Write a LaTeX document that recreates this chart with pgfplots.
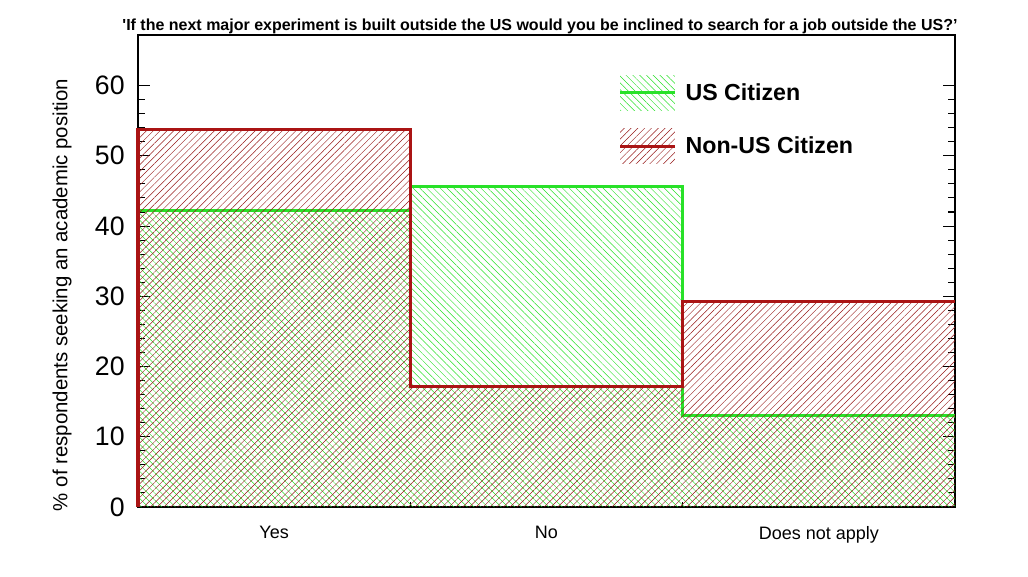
\documentclass[border=0pt]{standalone}
\usepackage{fontspec}
\setmainfont{Liberation Sans}
\usepackage{pgfplots}
\pgfplotsset{compat=1.18}
\usetikzlibrary{patterns.meta}
\definecolor{usgreen}{RGB}{40,225,40}
\definecolor{nonred}{RGB}{170,20,20}
\definecolor{hatchred}{RGB}{150,25,25}
\tikzset{
  greenhatch/.style={pattern={Lines[angle=-45,distance=3.6pt,line width=0.35pt]},pattern color=usgreen},
  redhatch/.style={pattern={Lines[angle=45,distance=3.6pt,line width=0.35pt]},pattern color=hatchred}
}
\pgfplotsset{
  hatchleg/.style={legend image code/.code={%
    \path[##1,draw=none] (0pt,-13pt) rectangle (41pt,13pt);
    \draw[##1] (0pt,0pt) -- (41pt,0pt);}}
}
\begin{document}
\begin{tikzpicture}
\useasboundingbox (-103.5pt,-51.75pt) rectangle (667.5pt,380.25pt);
\begin{axis}[
  at={(0,0)},anchor=south west,
  scale only axis,width=612.75pt,height=354pt,
  xmin=0,xmax=3,ymin=0,ymax=67.2,
  clip=false,
  axis line style={line width=1.5pt},
  ytick={0,10,...,60},minor y tick num=4,
  ytick pos=both,yticklabel pos=left,
  major tick length=9pt,minor tick length=5pt,
  tick style={black,line width=0.8pt},
  tick align=inside,
  xtick={0.5,1.5,2.5},xticklabels={Yes,No,Does not apply},
  xtick style={draw=none},xtick pos=left,
  extra x ticks={1,2},extra x tick labels={},
  extra x tick style={major tick length=3.5pt,xtick style={draw=black,line width=0.6pt}},
  /pgf/number format/assume math mode=true,
  y tick label style={font=\fontsize{20}{22}\selectfont,xshift=-6.5pt},
  x tick label style={font=\fontsize{13.5}{15}\selectfont,yshift=-11pt},
  ylabel={\% of respondents seeking an academic position},
  ylabel style={font=\fontsize{15.3}{17}\selectfont,at={(axis description cs:-0.093,0.449)},anchor=center},
  title={\textquotesingle If the next major experiment is built outside the US would you be inclined to search for a job outside the US?’},
  title style={font=\bfseries\fontsize{12}{14}\selectfont,at={(axis description cs:0.492,1)},anchor=base,yshift=-2.75pt},
  legend style={at={(axis description cs:0.588,0.915)},anchor=north west,draw=none,fill=none,inner sep=0pt,
    font=\bfseries\fontsize{17.4}{19}\selectfont,row sep=14pt},
  legend cell align=left,
]
% US citizen
\addplot[const plot,draw=none,greenhatch,forget plot] coordinates {(0,42.2) (1,45.6) (2,13.0) (3,13.0)} \closedcycle;
\addplot[const plot,usgreen,line width=2.2pt,forget plot] coordinates {(0,0) (0,42.2) (1,45.6) (2,13.0) (3,13.0)};
% Non-US citizen
\addplot[const plot,draw=none,redhatch,forget plot] coordinates {(0,53.8) (1,17.2) (2,29.3) (3,29.3)} \closedcycle;
\addplot[const plot,nonred,line width=2.4pt,forget plot] coordinates {(0,0) (0,53.8) (1,17.2) (2,29.3) (3,29.3)};
\addlegendimage{hatchleg,usgreen,line width=2.2pt,greenhatch}
\addlegendentry{\hspace{5pt}US Citizen}
\addlegendimage{hatchleg,nonred,line width=2.2pt,redhatch}
\addlegendentry{\hspace{5pt}Non-US Citizen}
\end{axis}
\end{tikzpicture}
\end{document}
